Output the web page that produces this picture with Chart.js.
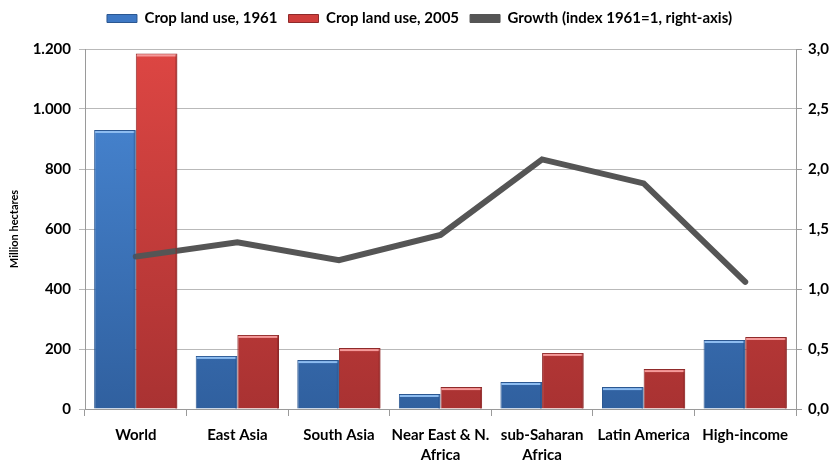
<!DOCTYPE html>
<html>
<head>
<meta charset="utf-8">
<script src="https://cdn.jsdelivr.net/npm/chart.js@4.4.1/dist/chart.umd.min.js"></script>
<style>
  html, body { margin: 0; padding: 0; background: #ffffff; }
  #wrap { position: relative; width: 839px; height: 461px; }
</style>
</head>
<body>
<div id="wrap"><canvas id="c" width="839" height="461"></canvas></div>
<script>
// Regions shown along the bottom axis
const regions = [
  'World',
  'East Asia',
  'South Asia',
  ['Near East & N.', 'Africa'],
  ['sub-Saharan', 'Africa'],
  'Latin America',
  'High-income'
];
// Crop land use, million hectares
const cropLand1961 = [930, 177, 163, 50, 90, 73, 230];
const cropLand2005 = [1185, 247, 203, 73, 187, 133, 240];
// Growth index (1961 = 1), plotted on the right axis
const growthIndex = [1.27, 1.39, 1.24, 1.45, 2.08, 1.88, 1.06];

const FONT = "'Liberation Sans Narrow', 'Arial Narrow', Lato, sans-serif";

function vGradient(chart, top, bottom) {
  const area = chart.chartArea;
  if (!area) return top;
  const g = chart.ctx.createLinearGradient(0, area.top, 0, area.bottom);
  g.addColorStop(0, top);
  g.addColorStop(1, bottom);
  return g;
}

// Soft bevel on each bar: light top rim, darker right edge
const barBevel = {
  id: 'barBevel',
  afterDatasetsDraw(chart) {
    const ctx = chart.ctx;
    const rims = [['#8dbcf0', '#24528f'], ['#f59a9a', '#8e2626']];
    [0, 1].forEach(di => {
      const meta = chart.getDatasetMeta(di);
      meta.data.forEach(bar => {
        const left = bar.x - bar.width / 2;
        const right = bar.x + bar.width / 2;
        const top = bar.y, bottom = bar.base;
        ctx.save();
        ctx.fillStyle = rims[di][0];
        ctx.fillRect(left + 1, top + 1, bar.width - 2, 2);
        ctx.fillStyle = rims[di][1];
        ctx.globalAlpha = 0.6;
        ctx.fillRect(right - 2, top + 1, 1.5, bottom - top - 1);
        ctx.restore();
      });
    });
  }
};

// Fixed legend band height so the plot starts at the same place every time
const legendBand = {
  id: 'legendBand',
  afterInit(chart) {
    const lg = chart.legend;
    if (!lg) return;
    const fit = lg.fit.bind(lg);
    lg.fit = function () {
      fit();
      this.height = 49;
    };
  }
};

new Chart(document.getElementById('c'), {
  data: {
    labels: regions,
    datasets: [
      {
        type: 'bar',
        label: 'Crop land use, 1961',
        data: cropLand1961,
        yAxisID: 'y',
        order: 2,
        backgroundColor: c => vGradient(c.chart, '#4a8ad8', '#30609f'),
        borderColor: '#2b5791',
        borderWidth: 1,
        categoryPercentage: 0.82,
        barPercentage: 1.0
      },
      {
        type: 'bar',
        label: 'Crop land use, 2005',
        data: cropLand2005,
        yAxisID: 'y',
        order: 2,
        backgroundColor: c => vGradient(c.chart, '#dd4643', '#a93232'),
        borderColor: '#8f2a2a',
        borderWidth: 1,
        categoryPercentage: 0.82,
        barPercentage: 1.0
      },
      {
        type: 'line',
        label: 'Growth (index 1961=1, right-axis)',
        data: growthIndex,
        yAxisID: 'y1',
        order: 0,
        borderColor: '#555555',
        backgroundColor: '#555555',
        borderWidth: 6,
        borderCapStyle: 'round',
        borderJoinStyle: 'miter',
        pointRadius: 0,
        tension: 0
      }
    ]
  },
  options: {
    responsive: false,
    animation: false,
    layout: { padding: 0 },
    plugins: {
      legend: {
        position: 'top',
        labels: {
          font: { family: FONT, size: 15, weight: 'bold' },
          color: '#000',
          boxWidth: 30,
          boxHeight: 8,
          padding: 11,
          generateLabels(chart) {
            return chart.data.datasets.map((ds, i) => ({
              text: ds.label,
              fillStyle: i === 0 ? '#3e78c4' : i === 1 ? '#cf3e3c' : '#555555',
              strokeStyle: i === 0 ? '#2b5791' : i === 1 ? '#8f2a2a' : '#555555',
              lineWidth: 1,
              datasetIndex: i,
              hidden: false
            }));
          }
        }
      },
      tooltip: { enabled: false }
    },
    scales: {
      x: {
        grid: {
          offset: true,
          drawOnChartArea: false,
          color: '#9a9a9a',
          tickLength: 7
        },
        border: { color: '#9a9a9a' },
        ticks: {
          font: { family: FONT, size: 15, weight: 'bold', lineHeight: 1.35 },
          color: '#000',
          maxRotation: 0,
          autoSkip: false,
          padding: 9
        },
        afterFit(s) { s.height = 52; }
      },
      y: {
        position: 'left',
        min: 0, max: 1200,
        ticks: {
          stepSize: 200,
          font: { family: FONT, size: 15, weight: 'bold' },
          color: '#000',
          padding: 8,
          callback: v => v.toLocaleString('de-DE')
        },
        grid: { color: '#b9b9b9', tickLength: 6 },
        border: { color: '#9a9a9a' },
        title: {
          display: true,
          text: 'Million hectares',
          font: { family: FONT, size: 11, weight: 'bold' },
          color: '#000',
          padding: { top: 8, bottom: 4 }
        },
        afterFit(s) { s.width = 85; }
      },
      y1: {
        position: 'right',
        min: 0, max: 3,
        ticks: {
          stepSize: 0.5,
          font: { family: FONT, size: 15, weight: 'bold' },
          color: '#000',
          padding: 6,
          callback: v => v.toFixed(1).replace('.', ',')
        },
        grid: { drawOnChartArea: false, color: '#9a9a9a', tickLength: 6 },
        border: { color: '#9a9a9a' },
        afterFit(s) { s.width = 43; }
      }
    }
  },
  plugins: [barBevel, legendBand]
});
</script>
</body>
</html>
